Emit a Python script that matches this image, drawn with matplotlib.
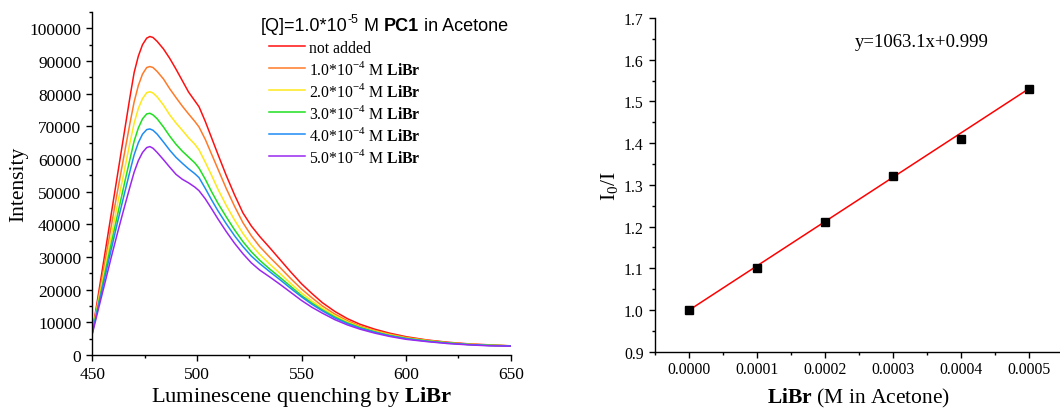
import numpy as np
import matplotlib
matplotlib.use('Agg')
import matplotlib.pyplot as plt
from matplotlib.lines import Line2D
from matplotlib.ticker import MultipleLocator

plt.rcParams['font.family'] = 'Liberation Serif'
plt.rcParams['mathtext.fontset'] = 'custom'
plt.rcParams['mathtext.rm'] = 'Liberation Serif'
plt.rcParams['mathtext.bf'] = 'Liberation Serif:bold'
plt.rcParams['mathtext.sf'] = 'Liberation Sans'

# emission spectra (nm, counts)
wavelength = [450, 453, 456, 459, 462, 465, 468, 470, 472, 474, 476, 477.5, 479, 481,
              484, 487, 490, 493, 496, 499, 501, 504, 507, 510, 514, 518, 522, 526,
              530, 535, 540, 545, 550, 555, 560, 566, 572, 578, 585, 592, 600, 610,
              620, 630, 640, 650]

int_0 = [7000, 19000, 31000, 43000, 55000, 67000, 79000, 86500, 91500, 95000, 97000, 97500,
         97200, 96000, 93700, 90800, 87500, 84000, 80500, 77800, 76000, 71500, 66500, 61500,
         55000, 49000, 43500, 39500, 36300, 32700, 29000, 25300, 21800, 18800, 16000, 13300,
         11100, 9400, 7900, 6700, 5600, 4600, 3900, 3400, 3100, 2800]
int_1 = [7000, 17700, 28500, 39300, 50000, 60500, 71000, 77500, 82500, 86000, 88000, 88300,
         88000, 86800, 84500, 81500, 78800, 76200, 73800, 71500, 69800, 66000, 61500, 57000,
         51000, 45500, 40500, 36500, 33200, 29800, 26600, 23300, 20200, 17500, 15000, 12500,
         10500, 8900, 7500, 6400, 5400, 4500, 3800, 3300, 3000, 2800]
int_2 = [7000, 16800, 26500, 36200, 46000, 55500, 65000, 71000, 75500, 78500, 80300, 80600,
         80200, 79000, 76500, 73500, 71000, 68800, 66500, 64500, 62800, 59000, 55000, 50800,
         45800, 41300, 37200, 33700, 30800, 27700, 24800, 21800, 19000, 16500, 14300, 12000,
         10100, 8600, 7300, 6200, 5200, 4400, 3700, 3300, 3000, 2800]
int_3 = [7000, 16000, 25000, 34000, 42800, 51500, 60000, 65500, 69500, 72300, 73800, 74000,
         73500, 72300, 69800, 67000, 64500, 62400, 60600, 58800, 57200, 53800, 50000, 46500,
         42300, 38300, 34700, 31600, 29000, 26200, 23600, 20900, 18200, 15900, 13800, 11600,
         9800, 8400, 7100, 6000, 5100, 4300, 3700, 3200, 2950, 2800]
int_4 = [6800, 15300, 23800, 32200, 40500, 48500, 56300, 61300, 65000, 67600, 69000, 69200,
         68800, 67600, 65200, 62700, 60500, 58700, 57000, 55500, 54300, 51000, 47500, 44200,
         40200, 36500, 33200, 30300, 28000, 25400, 22900, 20300, 17800, 15500, 13500, 11300,
         9600, 8200, 7000, 5900, 5000, 4200, 3600, 3200, 2900, 2800]
int_5 = [6500, 14300, 22000, 29800, 37300, 44500, 51500, 56000, 59500, 62000, 63500, 63800,
         63300, 62000, 59800, 57500, 55300, 53800, 52700, 51400, 50300, 47800, 44800, 41700,
         37800, 34200, 31000, 28200, 26000, 23800, 21500, 19100, 16700, 14600, 12800, 10800,
         9200, 7900, 6700, 5700, 4800, 4100, 3500, 3100, 2800, 2700]

spectra = [int_0, int_1, int_2, int_3, int_4, int_5]
labels = ['not added',
          r'1.0*10$^{-4}$ M $\mathbf{LiBr}$',
          r'2.0*10$^{-4}$ M $\mathbf{LiBr}$',
          r'3.0*10$^{-4}$ M $\mathbf{LiBr}$',
          r'4.0*10$^{-4}$ M $\mathbf{LiBr}$',
          r'5.0*10$^{-4}$ M $\mathbf{LiBr}$']
colors = ['#ff1010', '#ff7a28', '#ffe81a', '#1ee01e', '#1e8cf5', '#9a28f0']

# Stern-Volmer data
conc = [0.0, 0.0001, 0.0002, 0.0003, 0.0004, 0.0005]
ratio = [1.0, 1.10, 1.21, 1.32, 1.41, 1.53]
slope = 1063.1
intercept = 0.999

fig = plt.figure(figsize=(10.6, 4.1), dpi=100)
ax1 = fig.add_axes([0.0871, 0.1317, 0.3947, 0.8366])
ax2 = fig.add_axes([0.6176, 0.1398, 0.3852, 0.8139])

for y, c in zip(spectra, colors):
    ax1.plot(wavelength, y, color=c, lw=1.1)

ax1.set_xlim(450, 650)
ax1.set_ylim(0, 105000)
ax1.xaxis.set_major_locator(MultipleLocator(50))
ax1.xaxis.set_minor_locator(MultipleLocator(25))
ax1.yaxis.set_major_locator(MultipleLocator(10000))
ax1.yaxis.set_minor_locator(MultipleLocator(5000))
ax1.set_yticks(np.arange(0, 100001, 10000))
ax1.tick_params(labelsize=12.5)
ax1.set_xlabel(r'Luminescene quenching by $\mathbf{LiBr}$', fontsize=16.2, labelpad=1)
ax1.set_ylabel('Intensity', fontsize=15.5, labelpad=1)

handles = [Line2D([], [], color=c, lw=1.1) for c in colors]
ax1.legend(handles, labels, loc='upper left', bbox_to_anchor=(0.408, 0.938),
           frameon=False, fontsize=11.3, handlelength=2.3, handletextpad=0.25,
           labelspacing=0.26, borderaxespad=0)

# legend title in sans, with bold compound name
t = ax1.text(0.403, 0.937, '[Q]=1.0*10', transform=ax1.transAxes,
             family='Liberation Sans', fontsize=13, va='bottom')
sup = ax1.annotate('-5', xy=(1, 0.5), xycoords=t, family='Liberation Sans',
                   fontsize=9, va='bottom')
t2 = ax1.annotate(' M ', xy=(1, 0), xycoords=(sup, t), family='Liberation Sans',
                  fontsize=13, va='bottom')
t3 = ax1.annotate('PC1', xy=(1, 0), xycoords=t2, family='Liberation Sans',
                  fontsize=13, fontweight='bold', va='bottom')
ax1.annotate(' in Acetone', xy=(1, 0), xycoords=t3, family='Liberation Sans',
             fontsize=13, va='bottom')

fit_x = np.array([conc[0], conc[-1]])
ax2.plot(fit_x, slope * fit_x + intercept, color='red', lw=1.1, zorder=2)
ax2.plot(conc, ratio, 's', color='black', ms=6, zorder=3)
ax2.text(0.000244, 1.6425, 'y=1063.1x+0.999', fontsize=13.5, va='center')

ax2.set_xlim(-0.00005, 0.00055)
ax2.set_ylim(0.9, 1.7)
ax2.set_xticks([0.0, 0.0001, 0.0002, 0.0003, 0.0004, 0.0005])
ax2.set_xticklabels(['0.0000', '0.0001', '0.0002', '0.0003', '0.0004', '0.0005'])
ax2.xaxis.set_minor_locator(MultipleLocator(0.00005))
ax2.yaxis.set_major_locator(MultipleLocator(0.1))
ax2.yaxis.set_minor_locator(MultipleLocator(0.05))
ax2.yaxis.set_major_formatter(plt.FormatStrFormatter('%.1f'))
ax2.tick_params(labelsize=11.3)
ax2.set_xlabel(r'$\mathbf{LiBr}$ (M in Acetone)', fontsize=15.5, labelpad=6)
ax2.set_ylabel(r'I$_0$/I', fontsize=15.5, labelpad=2)

for ax in (ax1, ax2):
    for s in ('top', 'right'):
        ax.spines[s].set_visible(False)
    for s in ('left', 'bottom'):
        ax.spines[s].set_linewidth(1.0)
    ax.tick_params(which='major', direction='out', length=4.5, width=1.0, color='black')
    ax.tick_params(which='minor', direction='out', length=2.5, width=1.0)

ax2.tick_params(axis='x', which='major', pad=2.5)

fig.savefig('out.png', dpi=100)
